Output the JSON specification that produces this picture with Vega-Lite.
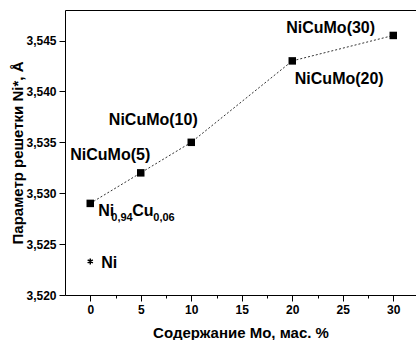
{
  "$schema": "https://vega.github.io/schema/vega-lite/v6.json",
  "autosize": {"type": "none"},
  "width": 351,
  "height": 285,
  "padding": {"left": 65, "top": 10, "right": 0, "bottom": 45},
  "background": "white",
  "config": {
    "view": {"stroke": null},
    "font": "Liberation Sans",
    "axis": {
      "domainColor": "black",
      "tickColor": "black",
      "labelColor": "black",
      "titleColor": "black",
      "labelFont": "Liberation Sans",
      "titleFont": "Liberation Sans",
      "labelFontSize": 12,
      "labelFontWeight": "bold",
      "titleFontSize": 15,
      "titleFontWeight": "bold",
      "grid": false
    }
  },
  "resolve": {"axis": {"x": "independent"}},
  "datasets": {
    "series": [
      {"mo": 0, "a": 3.529},
      {"mo": 5, "a": 3.532},
      {"mo": 10, "a": 3.535},
      {"mo": 20, "a": 3.543},
      {"mo": 30, "a": 3.5455}
    ],
    "ni": [{"mo": 0, "a": 3.5233}],
    "labels": [
      {"text": "NiCuMo(30)", "mo": 23.8, "a": 3.5462},
      {"text": "NiCuMo(20)", "mo": 24.65, "a": 3.5412},
      {"text": "NiCuMo(10)", "mo": 6.24, "a": 3.5372},
      {"text": "NiCuMo(5)", "mo": 1.98, "a": 3.5338}
    ],
    "main": [
      {"text": "Ni", "mo": 0.79, "a": 3.5278},
      {"text": "Cu", "mo": 4.16, "a": 3.5278},
      {"text": "Ni", "mo": 1.09, "a": 3.5227}
    ],
    "sub": [
      {"text": "0,94", "mo": 2.08, "a": 3.5273},
      {"text": "0,06", "mo": 6.24, "a": 3.5273}
    ]
  },
  "layer": [
    {
      "data": {"name": "series"},
      "mark": {"type": "line", "color": "#333333", "strokeWidth": 1, "strokeDash": [2, 2]},
      "encoding": {
        "x": {
          "field": "mo", "type": "quantitative",
          "scale": {"domain": [-2.5, 32.25], "nice": false, "zero": false},
          "axis": {
            "title": "Содержание Мо, мас. %",
            "orient": "bottom",
            "values": [0, 2.5, 5, 7.5, 10, 12.5, 15, 17.5, 20, 22.5, 25, 27.5, 30],
            "labelExpr": "datum.value % 5 == 0 ? format(datum.value, 'd') : ''",
            "tickSize": {"condition": {"test": "datum.value % 5 == 0", "value": 6}, "value": 3},
            "labelPadding": 3,
            "titlePadding": 10
          }
        },
        "y": {
          "field": "a", "type": "quantitative",
          "scale": {"domain": [3.52, 3.548], "nice": false, "zero": false},
          "axis": {
            "title": "Параметр решетки Ni*, Å",
            "values": [3.52, 3.5225, 3.525, 3.5275, 3.53, 3.5325, 3.535, 3.5375, 3.54, 3.5425, 3.545, 3.5475],
            "labelExpr": "abs(datum.value * 1000 - round(datum.value * 200) * 5) < 0.01 ? replace(format(datum.value, '.3f'), '.', ',') : ''",
            "tickSize": {"condition": {"test": "abs(datum.value * 1000 - round(datum.value * 200) * 5) < 0.01", "value": 6}, "value": 3},
            "labelPadding": 3,
            "titlePadding": 0
          }
        }
      }
    },
    {
      "data": {"name": "series"},
      "mark": {"type": "point", "shape": "square", "filled": true, "color": "black", "size": 56, "opacity": 1},
      "encoding": {
        "x": {"field": "mo", "type": "quantitative", "axis": {"orient": "top", "title": null, "labels": false, "ticks": false, "domain": true}},
        "y": {"field": "a", "type": "quantitative"}
      }
    },
    {
      "data": {"name": "ni"},
      "mark": {"type": "point", "shape": "M0,-1L0,1M-0.87,-0.5L0.87,0.5M-0.87,0.5L0.87,-0.5", "filled": false, "color": "black", "strokeWidth": 1.5, "size": 36, "opacity": 1},
      "encoding": {
        "x": {"field": "mo", "type": "quantitative", "axis": null},
        "y": {"field": "a", "type": "quantitative"}
      }
    },
    {
      "data": {"name": "labels"},
      "mark": {"type": "text", "font": "Liberation Sans", "fontWeight": "bold", "fontSize": 16, "align": "center", "baseline": "middle", "color": "black"},
      "encoding": {
        "x": {"field": "mo", "type": "quantitative", "axis": null},
        "y": {"field": "a", "type": "quantitative"},
        "text": {"field": "text"}
      }
    },
    {
      "data": {"name": "main"},
      "mark": {"type": "text", "font": "Liberation Sans", "fontWeight": "bold", "fontSize": 16, "align": "left", "baseline": "alphabetic", "color": "black"},
      "encoding": {
        "x": {"field": "mo", "type": "quantitative", "axis": null},
        "y": {"field": "a", "type": "quantitative"},
        "text": {"field": "text"}
      }
    },
    {
      "data": {"name": "sub"},
      "mark": {"type": "text", "font": "Liberation Sans", "fontWeight": "bold", "fontSize": 11, "align": "left", "baseline": "alphabetic", "color": "black"},
      "encoding": {
        "x": {"field": "mo", "type": "quantitative", "axis": null},
        "y": {"field": "a", "type": "quantitative"},
        "text": {"field": "text"}
      }
    }
  ]
}
